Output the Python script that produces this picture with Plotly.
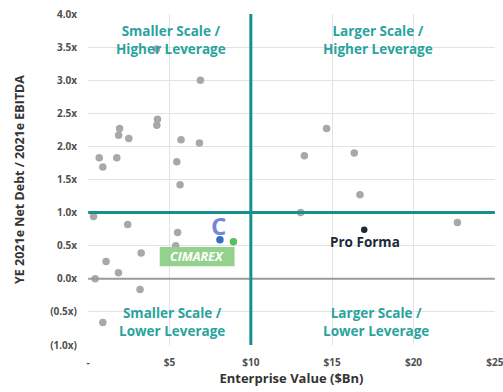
import plotly.graph_objects as go

# Peer universe: enterprise value ($Bn) vs. YE 2021e net debt / 2021e EBITDA
peer_ev = [6.9, 4.26, 4.22, 1.93, 1.87, 2.5, 5.71, 6.84, 0.68, 0.9, 1.76, 5.45, 5.65, 4.2,
           14.66, 13.29, 16.36, 16.71, 13.06, 22.7,
           0.33, 2.43, 5.5, 5.38, 3.26, 1.1, 1.86, 0.43, 3.19, 0.9]
peer_lev = [3.0, 2.41, 2.32, 2.27, 2.17, 2.12, 2.10, 2.05, 1.83, 1.69, 1.83, 1.77, 1.42, 3.47,
            2.27, 1.86, 1.90, 1.27, 1.0, 0.85,
            0.94, 0.82, 0.70, 0.50, 0.39, 0.26, 0.09, 0.0, -0.16, -0.66]

cabot_ev, cabot_lev = [8.1], [0.59]
cimarex_ev, cimarex_lev = [8.93], [0.56]
proforma_ev, proforma_lev = [16.97], [0.74]

x_ticks = [0, 5, 10, 15, 20, 25]
x_ticktext = ["-", "$5", "$10", "$15", "$20", "$25"]
y_ticks = [4.0, 3.5, 3.0, 2.5, 2.0, 1.5, 1.0, 0.5, 0.0, -0.5, -1.0]
y_ticktext = ["4.0x", "3.5x", "3.0x", "2.5x", "2.0x", "1.5x", "1.0x", "0.5x", "0.0x", "(0.5x)", "(1.0x)"]

ev_threshold = 10
lev_threshold = 1.0

TEAL = "#178f8d"
TEAL_TEXT = "#2aa39e"
FONT = "Open Sans"

fig = go.Figure()

fig.add_trace(go.Scatter(x=peer_ev, y=peer_lev, mode="markers",
                         marker=dict(color="#a8a8a8", size=7.5), hoverinfo="skip"))
fig.add_trace(go.Scatter(x=cabot_ev, y=cabot_lev, mode="markers",
                         marker=dict(color="#2f6fc6", size=7.5), hoverinfo="skip"))
fig.add_trace(go.Scatter(x=cimarex_ev, y=cimarex_lev, mode="markers",
                         marker=dict(color="#5cbf5a", size=7.5), hoverinfo="skip"))
fig.add_trace(go.Scatter(x=proforma_ev, y=proforma_lev, mode="markers",
                         marker=dict(color="#1c2a3a", size=6.5), hoverinfo="skip"))

# Zero line
fig.add_shape(type="line", x0=0, x1=25, y0=0, y1=0, xref="x", yref="y",
              line=dict(color="#9a9a9a", width=2))
# Quadrant dividers
fig.add_shape(type="line", x0=ev_threshold, x1=ev_threshold, y0=-1, y1=4, xref="x", yref="y",
              line=dict(color=TEAL, width=3))
fig.add_shape(type="line", x0=0, x1=25, y0=lev_threshold, y1=lev_threshold, xref="x", yref="y",
              line=dict(color=TEAL, width=3))

# Cimarex badge
fig.add_shape(type="rect", x0=4.4, x1=9.0, y0=0.19, y1=0.48, xref="x", yref="y",
              line=dict(width=0), fillcolor="#93d28c", layer="above")
fig.add_annotation(x=6.7, y=0.335, text="<i><b>CIMAREX</b></i>", showarrow=False,
                   font=dict(family=FONT, size=12.5, color="white"))
# Cabot mark
fig.add_annotation(x=8.0, y=0.80, text="<b>C</b>", showarrow=False,
                   font=dict(family=FONT, size=24, color="#6f88d8"))

quad_font = dict(family=FONT, size=13.5, color=TEAL_TEXT)
for xq, yq, label in [(5.1, 3.6, "Smaller Scale /<br>Higher Leverage"),
                      (17.8, 3.6, "Larger Scale /<br>Higher Leverage"),
                      (5.16, -0.65, "Smaller Scale /<br>Lower Leverage"),
                      (17.7, -0.65, "Larger Scale /<br>Lower Leverage")]:
    fig.add_annotation(x=xq, y=yq, text="<b>" + label + "</b>", showarrow=False,
                       font=quad_font, align="center")

fig.add_annotation(x=17.0, y=0.56, text="<b>Pro Forma</b>", showarrow=False,
                   font=dict(family=FONT, size=13.5, color="#1c2a3a"))

fig.update_xaxes(range=[-0.01, 25.01], tickvals=x_ticks, ticktext=x_ticktext,
                 showgrid=True, gridcolor="#e3e3e3", gridwidth=1, zeroline=False,
                 showline=False, ticks="", ticklabelstandoff=10, ticklabeloverflow="allow",
                 automargin=False,
                 tickfont=dict(family=FONT, size=10, color="#4f4f4f", weight="bold"),
                 title=dict(text="<b>Enterprise Value ($Bn)</b>",
                            font=dict(family=FONT, size=13, color="#333333"), standoff=4))
fig.update_yaxes(range=[-1, 4], tickvals=y_ticks, ticktext=y_ticktext,
                 showgrid=True, gridcolor="#e3e3e3", gridwidth=1, zeroline=False,
                 showline=False, ticks="", ticklabelstandoff=10, automargin=False,
                 tickfont=dict(family=FONT, size=10, color="#4f4f4f", weight="bold"),
                 title=dict(text="<b>YE 2021e Net Debt / 2021e EBITDA</b>",
                            font=dict(family=FONT, size=12.5, color="#333333"), standoff=22))

fig.update_layout(width=503, height=392, showlegend=False,
                  margin=dict(l=88, r=8, t=14, b=47),
                  plot_bgcolor="white", paper_bgcolor="white")

fig.write_html("out.html")
